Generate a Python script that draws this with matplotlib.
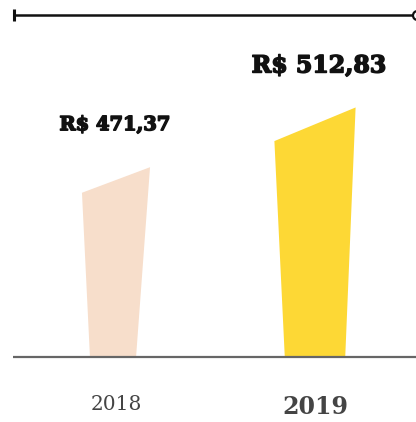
import matplotlib
matplotlib.use("Agg")
import matplotlib.pyplot as plt
import matplotlib.patheffects as pe
from matplotlib.patches import Polygon
from matplotlib.lines import Line2D

# Average values per year
years = ["2018", "2019"]
values = [471.37, 512.83]
value_labels = ["R$ 471,37", "R$ 512,83"]

# Styling
bar_colors = ["#F7DECB", "#FDD835"]
top_half_widths = [0.171, 0.204]      # in category units
bottom_half_widths = [0.116, 0.152]
bottom_shift = [-0.015, 0.0]
slant_frac = 0.135                    # left corner drop as fraction of bar height
label_sizes = [14.0, 17.0]
label_gap_px = [37, 35]
year_weights = ["normal", "bold"]
year_sizes = [14.5, 17.0]
year_y_px = [404, 407]

W, H = 416, 422
fig = plt.figure(figsize=(W / 100, H / 100), dpi=100)
fig.patch.set_facecolor("white")

# axes placed so the value floor sits on the baseline
base_px = 65.5                     # baseline height from bottom, px
px_per_unit = 1.441
y_floor = 340.0
ax = fig.add_axes([0, base_px / H, 1, (H - base_px) / H])
ax.set_ylim(y_floor, y_floor + (H - base_px) / px_per_unit)
# category 0 at x=116px, category 1 at x=315px
x_scale = 199.0
ax.set_xlim(-116 / x_scale, (W - 116) / x_scale)
ax.axis("off")

heavy = [pe.withStroke(linewidth=1.1, foreground="#111111")]

for i, (v, lab) in enumerate(zip(values, value_labels)):
    h = v - y_floor
    xl_top = i - top_half_widths[i]
    xr_top = i + top_half_widths[i]
    xl_bot = i + bottom_shift[i] - bottom_half_widths[i]
    xr_bot = i + bottom_shift[i] + bottom_half_widths[i]
    poly = Polygon([(xl_bot, y_floor), (xl_top, v - slant_frac * h),
                    (xr_top, v), (xr_bot, y_floor)],
                   closed=True, facecolor=bar_colors[i], edgecolor="none")
    ax.add_patch(poly)
    ax.annotate(lab, xy=(i, v), xytext=(-1 + 5 * i, label_gap_px[i]),
                textcoords="offset pixels", ha="center", va="baseline",
                fontsize=label_sizes[i], fontweight="bold",
                family="DejaVu Serif", color="#111111", path_effects=heavy)

# baseline
ax.add_line(Line2D([13 / x_scale - 116 / x_scale, (W - 116) / x_scale],
                   [y_floor, y_floor], color="#666666", lw=1.6,
                   solid_capstyle="butt", clip_on=False))

# year labels
for i, yr in enumerate(years):
    fig.text((116 + 199 * i) / W, (H - year_y_px[i]) / H, yr,
             ha="center", va="center", fontsize=year_sizes[i],
             fontweight=year_weights[i], family="DejaVu Serif",
             color="#444444")

# top rule with end markers
top_y = (H - 14.5) / H
fig.add_artist(Line2D([14 / W, 413 / W], [top_y, top_y], color="#111111",
                      lw=1.8, transform=fig.transFigure))
fig.add_artist(Line2D([14 / W, 14 / W], [(H - 8.5) / H, (H - 21) / H],
                      color="#111111", lw=2.2, transform=fig.transFigure,
                      solid_capstyle="butt"))
fig.add_artist(Line2D([417 / W], [top_y], marker="o", markersize=6.5,
                      markerfacecolor="white", markeredgecolor="#111111",
                      markeredgewidth=1.6, transform=fig.transFigure))

fig.savefig("out.png", dpi=100, facecolor="white")
